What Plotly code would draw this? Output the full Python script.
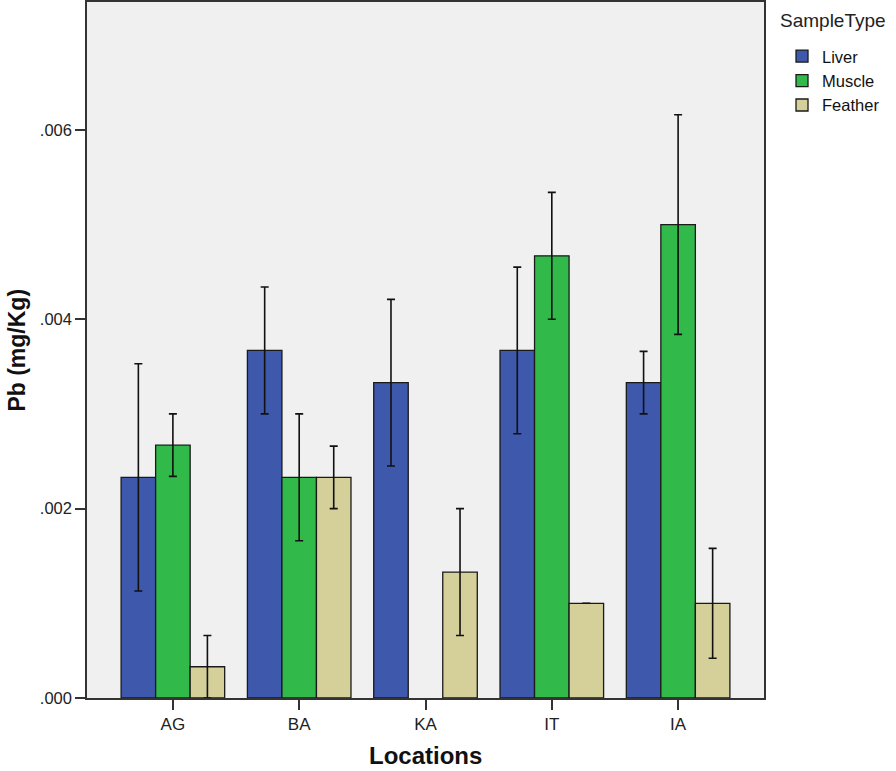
import plotly.graph_objects as go

locations = ["AG", "BA", "KA", "IT", "IA"]
sample_types = ["Liver", "Muscle", "Feather"]

liver = [0.00233, 0.00367, 0.00333, 0.00367, 0.00333]
muscle = [0.00267, 0.00233, None, 0.00467, 0.00500]
feather = [0.00033, 0.00233, 0.00133, 0.00100, 0.00100]

liver_err = [0.00120, 0.00067, 0.00088, 0.00088, 0.00033]
muscle_err = [0.00033, 0.00067, None, 0.00067, 0.00116]
feather_err = [0.00033, 0.00033, 0.00067, None, 0.00058]

y_tickvals = [0.0, 0.002, 0.004, 0.006]
y_ticktext = [".000", ".002", ".004", ".006"]

colors = {"Liver": "#3e58ac", "Muscle": "#31b94a", "Feather": "#d5d09a"}
series = {"Liver": (liver, liver_err), "Muscle": (muscle, muscle_err), "Feather": (feather, feather_err)}

FONT = "Arial, Liberation Sans, sans-serif"

fig = go.Figure()
for name in sample_types:
    vals, errs = series[name]
    fig.add_trace(go.Bar(
        name=name, x=locations, y=vals,
        marker=dict(color=colors[name], line=dict(color="#1a1a1a", width=1.3)),
        error_y=dict(type="data", array=errs, visible=True, color="#111111", thickness=1.6, width=4),
    ))

fig.update_layout(
    barmode="group",
    bargap=0.18,
    bargroupgap=0,
    width=896, height=771,
    margin=dict(l=87, r=132, t=2, b=73, autoexpand=False),
    paper_bgcolor="white",
    plot_bgcolor="#f0f0f0",
    font=dict(family=FONT, color="#222222", size=16),
    legend=dict(
        x=1.0266, y=0.947, xanchor="left", yanchor="top",
        font=dict(size=16.5, family=FONT, color="#111"),
        itemwidth=30, tracegroupgap=0,
        bgcolor="rgba(0,0,0,0)",
    ),
    showlegend=True,
    annotations=[
        dict(text="SampleType", xref="paper", yref="paper", x=1.0207, y=0.974,
             xanchor="left", yanchor="middle", showarrow=False,
             font=dict(size=19, family=FONT, color="#222")),
        dict(text="<b>Locations</b>", xref="paper", yref="paper", x=0.5, y=-0.061,
             xanchor="center", yanchor="top", showarrow=False,
             font=dict(size=24, family=FONT, color="#111")),
        dict(text="<b>Pb (mg/Kg)</b>", xref="paper", yref="paper", x=-0.104, y=0.5,
             xanchor="center", yanchor="middle", textangle=-90, showarrow=False,
             font=dict(size=23, family=FONT, color="#111")),
    ],
)

fig.update_xaxes(
    range=[-0.68, 4.68], automargin=False,
    showline=True, linecolor="#333333", linewidth=1.5, mirror=True,
    ticks="outside", ticklen=10, tickwidth=1.5, tickcolor="#333333",
    tickfont=dict(size=17, family=FONT, color="#222"),
    showgrid=False, zeroline=False,
)
fig.update_yaxes(
    range=[0, 0.00735], automargin=False,
    tickvals=y_tickvals, ticktext=y_ticktext,
    showline=True, linecolor="#333333", linewidth=1.5, mirror=True,
    ticks="outside", ticklen=10, tickwidth=1.5, tickcolor="#333333",
    tickfont=dict(size=16.5, family=FONT, color="#222"),
    showgrid=False, zeroline=False,
)

fig.write_html("out.html", config={"displayModeBar": False},
               post_script="document.body.style.margin='0';document.body.style.overflow='hidden';")
